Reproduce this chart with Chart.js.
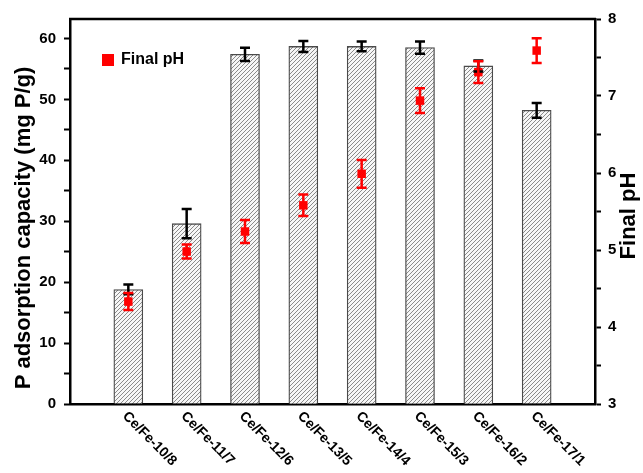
<!DOCTYPE html>
<html><head><meta charset="utf-8">
<script src="https://cdn.jsdelivr.net/npm/chart.js@4"></script>
<style>html,body{margin:0;padding:0;background:#fff}#wrap{width:643px;height:473px}</style>
</head><body><div id="wrap"><canvas id="c" width="643" height="473"></canvas></div>
<script>
const categories = ['Ce/Fe-10/8','Ce/Fe-11/7','Ce/Fe-12/6','Ce/Fe-13/5','Ce/Fe-14/4','Ce/Fe-15/3','Ce/Fe-16/2','Ce/Fe-17/1'];
const capacity = [18.8, 29.6, 57.4, 58.7, 58.7, 58.5, 55.5, 48.2];
const capacityErr = [0.8, 2.4, 1.1, 0.9, 0.8, 1.0, 0.9, 1.2];
const finalPH = [4.33, 4.98, 5.24, 5.58, 5.99, 6.94, 7.31, 7.59];
const finalPHErr = [0.11, 0.09, 0.15, 0.14, 0.18, 0.16, 0.14, 0.16];
const capacityTicks = [0, 10, 20, 30, 40, 50, 60];
const phTicks = [3, 4, 5, 6, 7, 8];
const FONT = 'Arial, "Liberation Sans", sans-serif';

const canvas = document.getElementById('c');
const mainCtx = canvas.getContext('2d');
function makeHatch(){
  const n = 4;
  const c = document.createElement('canvas'); c.width = n; c.height = n;
  const g = c.getContext('2d');
  g.fillStyle = '#f6f6f6'; g.fillRect(0,0,n,n);
  g.strokeStyle = '#8a8a8a'; g.lineWidth = 1;
  g.beginPath();
  g.moveTo(-1,n+1); g.lineTo(n+1,-1);
  g.moveTo(-1,1); g.lineTo(1,-1);
  g.moveTo(n-1,n+1); g.lineTo(n+1,n-1);
  g.stroke();
  return mainCtx.createPattern(c,'repeat');
}

const extras = {
  id: 'extras',
  afterDatasetsDraw(chart){
    const ctx = chart.ctx, xs = chart.scales.x, ys = chart.scales.y, yp = chart.scales.y1;
    function eb(x, top, bot, color, cap){
      ctx.save(); ctx.strokeStyle = color; ctx.lineWidth = 2.5; ctx.lineCap = 'butt';
      ctx.beginPath();
      ctx.moveTo(x, top); ctx.lineTo(x, bot);
      ctx.moveTo(x-cap, top); ctx.lineTo(x+cap, top);
      ctx.moveTo(x-cap, bot); ctx.lineTo(x+cap, bot);
      ctx.stroke(); ctx.restore();
    }
    categories.forEach((c,i)=>{
      const x = xs.getPixelForValue(i+1);
      eb(x, ys.getPixelForValue(capacity[i]+capacityErr[i]), ys.getPixelForValue(capacity[i]-capacityErr[i]), '#000', 5);
    });
    categories.forEach((c,i)=>{
      const x = xs.getPixelForValue(i+1);
      eb(x, yp.getPixelForValue(finalPH[i]+finalPHErr[i]), yp.getPixelForValue(finalPH[i]-finalPHErr[i]), '#ff0000', 5);
    });
  },
  afterDraw(chart){
    const ctx = chart.ctx, xs = chart.scales.x, ca = chart.chartArea;
    ctx.save();
    ctx.strokeStyle = '#000'; ctx.lineWidth = 2.5;
    ctx.beginPath(); ctx.moveTo(ca.left-1, ca.top); ctx.lineTo(ca.right+1, ca.top); ctx.stroke();
    ctx.fillStyle = '#000'; ctx.font = 'bold 14px ' + FONT;
    ctx.textAlign = 'left'; ctx.textBaseline = 'middle';
    categories.forEach((c,i)=>{
      const x = xs.getPixelForValue(i+1);
      ctx.save(); ctx.translate(x-3.5, ca.bottom+10); ctx.rotate(Math.PI/4); ctx.fillText(c, 0, 0); ctx.restore();
    });
    ctx.font = 'bold 22px ' + FONT; ctx.textAlign = 'center'; ctx.textBaseline = 'middle';
    ctx.save(); ctx.translate(24, 228); ctx.rotate(-Math.PI/2); ctx.fillText('P adsorption capacity (mg P/g)', 0, 0); ctx.restore();
    ctx.save(); ctx.translate(629, 216); ctx.rotate(-Math.PI/2); ctx.fillText('Final pH', 0, 0); ctx.restore();
    ctx.fillStyle = '#ff0000'; ctx.fillRect(102, 54, 12, 12);
    ctx.fillStyle = '#000'; ctx.font = 'bold 16px ' + FONT; ctx.textAlign = 'left'; ctx.textBaseline = 'alphabetic';
    ctx.fillText('Final pH', 121, 63.5);
    ctx.restore();
  }
};

new Chart(canvas, {
  type: 'bar',
  data: {
    datasets: [
      {
        type: 'bar', label: 'P adsorption capacity',
        data: categories.map((c,i)=>({x: i+1, y: capacity[i]})),
        backgroundColor: makeHatch(), borderColor: '#4a4a4a', borderWidth: 1.3,
        barThickness: 29, xAxisID: 'x', yAxisID: 'y', order: 2
      },
      {
        type: 'line', label: 'Final pH', showLine: false,
        data: categories.map((c,i)=>({x: i+1, y: finalPH[i]})),
        pointStyle: 'rect', pointRadius: 6, pointBackgroundColor: '#ff0000', pointBorderColor: '#ff0000', pointBorderWidth: 0,
        xAxisID: 'x', yAxisID: 'y1', order: 1
      }
    ]
  },
  options: {
    responsive: false, animation: false, devicePixelRatio: 1,
    layout: { padding: { top: 19, left: 0, right: 0, bottom: 0 } },
    plugins: { legend: { display: false }, tooltip: { enabled: false } },
    scales: {
      x: {
        type: 'linear', position: 'bottom', min: 0, max: 9, offset: false,
        ticks: { display: false, stepSize: 1 },
        grid: { display: false, offset: false },
        border: { display: true, color: '#000', width: 2.5 },
        afterFit: s => { s.height = 69; }
      },
      y: {
        type: 'linear', position: 'left', min: 0, max: 63.2,
        afterBuildTicks: s => { s.ticks = s.ticks.filter(t => Math.abs(t.value/5 - Math.round(t.value/5)) < 1e-6); },
        ticks: { stepSize: 5, padding: 8, color: '#000', font: { family: FONT, size: 15, weight: 'bold' },
          callback: v => capacityTicks.includes(v) ? String(v) : '' },
        grid: { drawOnChartArea: false, drawTicks: true, tickLength: 6, tickWidth: 2, color: '#000' },
        border: { display: true, color: '#000', width: 2.5 },
        afterFit: s => { s.width = 70; }
      },
      y1: {
        type: 'linear', position: 'right', min: 3, max: 8,
        ticks: { stepSize: 0.5, padding: 7, color: '#000', font: { family: FONT, size: 15, weight: 'bold' },
          callback: v => phTicks.includes(v) ? String(v) : '' },
        grid: { drawOnChartArea: false, drawTicks: true, tickLength: 6, tickWidth: 2, color: '#000' },
        border: { display: true, color: '#000', width: 2.5 },
        afterFit: s => { s.width = 48; }
      }
    }
  },
  plugins: [extras]
});
</script>
</body></html>
